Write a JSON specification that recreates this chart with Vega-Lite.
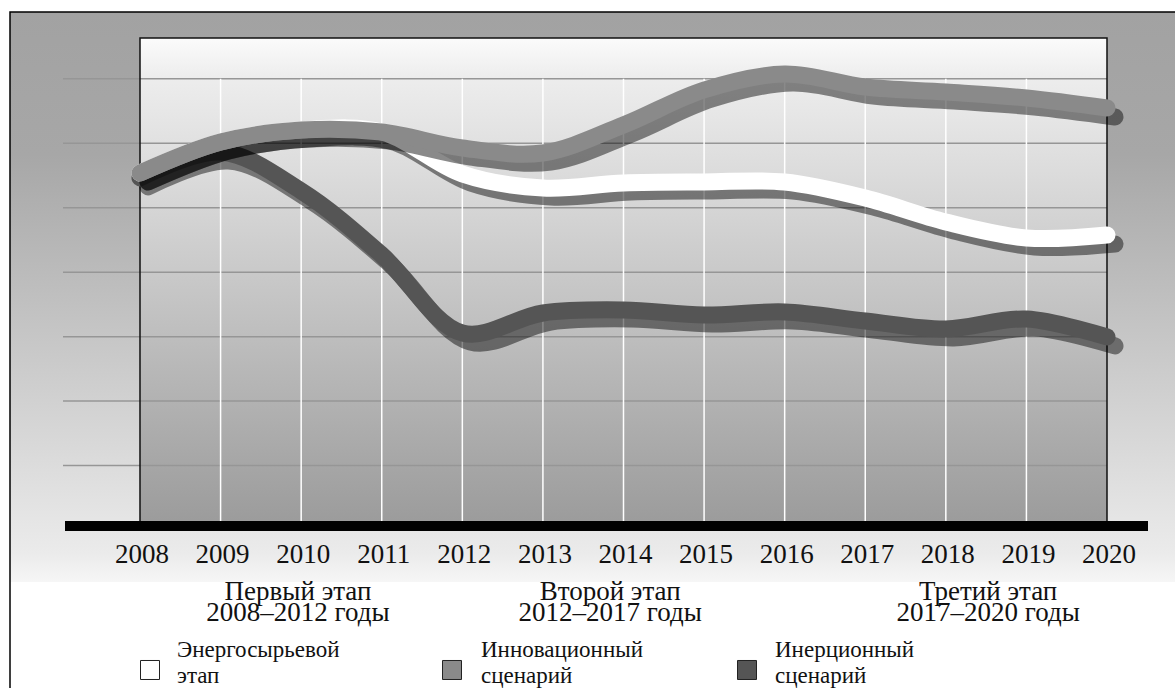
{
  "$schema": "https://vega.github.io/schema/vega-lite/v6.json",
  "width": 1175,
  "height": 688,
  "autosize": {"type": "none"},
  "padding": 0,
  "background": "white",
  "config": {"view": {"stroke": null}},
  "datasets": {
    "one": [{"k": 1}],
    "grid": [{"g": 10}, {"g": 20}, {"g": 30}, {"g": 40}, {"g": 50}, {"g": 60}, {"g": 70}],
    "series": [
      {"year": 2008, "series": "Энергосырьевой этап", "value": 55.39},
      {"year": 2009, "series": "Энергосырьевой этап", "value": 60.2},
      {"year": 2010, "series": "Энергосырьевой этап", "value": 62.06},
      {"year": 2011, "series": "Энергосырьевой этап", "value": 61.75},
      {"year": 2012, "series": "Энергосырьевой этап", "value": 55.24},
      {"year": 2013, "series": "Энергосырьевой этап", "value": 53.07},
      {"year": 2014, "series": "Энергосырьевой этап", "value": 53.84},
      {"year": 2015, "series": "Энергосырьевой этап", "value": 54.0},
      {"year": 2016, "series": "Энергосырьевой этап", "value": 54.0},
      {"year": 2017, "series": "Энергосырьевой этап", "value": 51.51},
      {"year": 2018, "series": "Энергосырьевой этап", "value": 47.79},
      {"year": 2019, "series": "Энергосырьевой этап", "value": 45.31},
      {"year": 2020, "series": "Энергосырьевой этап", "value": 45.77},
      {"year": 2008, "series": "Инновационный сценарий", "value": 55.39},
      {"year": 2009, "series": "Инновационный сценарий", "value": 60.2},
      {"year": 2010, "series": "Инновационный сценарий", "value": 62.06},
      {"year": 2011, "series": "Инновационный сценарий", "value": 61.75},
      {"year": 2012, "series": "Инновационный сценарий", "value": 59.27},
      {"year": 2013, "series": "Инновационный сценарий", "value": 58.5},
      {"year": 2014, "series": "Инновационный сценарий", "value": 62.84},
      {"year": 2015, "series": "Инновационный сценарий", "value": 68.27},
      {"year": 2016, "series": "Инновационный сценарий", "value": 70.75},
      {"year": 2017, "series": "Инновационный сценарий", "value": 68.74},
      {"year": 2018, "series": "Инновационный сценарий", "value": 67.96},
      {"year": 2019, "series": "Инновационный сценарий", "value": 67.03},
      {"year": 2020, "series": "Инновационный сценарий", "value": 65.48},
      {"year": 2008, "series": "Инерционный сценарий", "value": 54.62},
      {"year": 2009, "series": "Инерционный сценарий", "value": 58.65},
      {"year": 2010, "series": "Инерционный сценарий", "value": 52.6},
      {"year": 2011, "series": "Инерционный сценарий", "value": 42.67},
      {"year": 2012, "series": "Инерционный сценарий", "value": 30.57},
      {"year": 2013, "series": "Инерционный сценарий", "value": 33.67},
      {"year": 2014, "series": "Инерционный сценарий", "value": 34.14},
      {"year": 2015, "series": "Инерционный сценарий", "value": 33.36},
      {"year": 2016, "series": "Инерционный сценарий", "value": 33.83},
      {"year": 2017, "series": "Инерционный сценарий", "value": 32.43},
      {"year": 2018, "series": "Инерционный сценарий", "value": 31.19},
      {"year": 2019, "series": "Инерционный сценарий", "value": 32.74},
      {"year": 2020, "series": "Инерционный сценарий", "value": 29.95}
    ],
    "phases": [
      {"phase": 1, "text": "Первый этап\n2008–2012 годы"},
      {"phase": 2, "text": "Второй этап\n2012–2017 годы"},
      {"phase": 3, "text": "Третий этап\n2017–2020 годы"}
    ],
    "legend": [
      {"series": "Энергосырьевой этап", "text": "Энергосырьевой\nэтап"},
      {"series": "Инновационный сценарий", "text": "Инновационный\nсценарий"},
      {"series": "Инерционный сценарий", "text": "Инерционный\nсценарий"}
    ]
  },
  "layer": [
    {
      "data": {"name": "one"},
      "mark": {"type": "rect", "fill": {"gradient": "linear", "x1": 0, "y1": 0, "x2": 0, "y2": 1, "stops": [{"offset": 0, "color": "#a2a2a2"}, {"offset": 0.25, "color": "#a7a7a7"}, {"offset": 0.95, "color": "#ebebeb"}, {"offset": 1, "color": "#f6f6f6"}]}},
      "encoding": {
        "x": {"datum": 2006.3868, "type": "quantitative", "axis": null, "scale": {"domain": [2006.26267, 2020.84385], "nice": false, "zero": false}},
        "x2": {"datum": 2020.9059},
        "y": {"datum": 80.372, "type": "quantitative", "axis": null, "scale": {"domain": [-24.5151, 82.2343], "nice": false, "zero": false}},
        "y2": {"datum": -8.068}
      }
    },
    {
      "data": {"name": "one"},
      "mark": {"type": "rect", "fill": {"gradient": "linear", "x1": 0, "y1": 0, "x2": 0, "y2": 1, "stops": [{"offset": 0, "color": "#fbfbfb"}, {"offset": 0.08, "color": "#ededed"}, {"offset": 1, "color": "#9b9b9b"}]}},
      "encoding": {
        "x": {"datum": 2008, "type": "quantitative", "axis": null, "scale": {"domain": [2006.26267, 2020.84385], "nice": false, "zero": false}},
        "x2": {"datum": 2020},
        "y": {"datum": 76.338, "type": "quantitative", "axis": null, "scale": {"domain": [-24.5151, 82.2343], "nice": false, "zero": false}},
        "y2": {"datum": 0.6206}
      }
    },
    {
      "data": {"name": "grid"},
      "mark": {"type": "rule", "color": "#969696", "strokeWidth": 1.5},
      "encoding": {
        "x": {"datum": 2007.0445, "type": "quantitative", "axis": null, "scale": {"domain": [2006.26267, 2020.84385], "nice": false, "zero": false}},
        "x2": {"datum": 2020},
        "y": {"field": "g", "type": "quantitative", "axis": null, "scale": {"domain": [-24.5151, 82.2343], "nice": false, "zero": false}}
      }
    },
    {
      "data": {"name": "series"},
      "transform": [{"filter": "datum.series === 'Инерционный сценарий' && datum.year > 2008 && datum.year < 2020"}],
      "mark": {"type": "rule", "color": "#ffffff", "strokeWidth": 1.5},
      "encoding": {
        "x": {"field": "year", "type": "quantitative", "axis": null, "scale": {"domain": [2006.26267, 2020.84385], "nice": false, "zero": false}},
        "y": {"datum": 70, "type": "quantitative", "axis": null, "scale": {"domain": [-24.5151, 82.2343], "nice": false, "zero": false}},
        "y2": {"datum": 1.3964}
      }
    },
    {
      "data": {"name": "one"},
      "mark": {"type": "rect", "fill": null, "stroke": "#111111", "strokeWidth": 1.5},
      "encoding": {
        "x": {"datum": 2008, "type": "quantitative", "axis": null, "scale": {"domain": [2006.26267, 2020.84385], "nice": false, "zero": false}},
        "x2": {"datum": 2020},
        "y": {"datum": 76.338, "type": "quantitative", "axis": null, "scale": {"domain": [-24.5151, 82.2343], "nice": false, "zero": false}},
        "y2": {"datum": 0.6206}
      }
    },
    {
      "data": {"name": "series"},
      "transform": [{"filter": "datum.series === 'Инерционный сценарий'"}],
      "mark": {"type": "line", "interpolate": "catmull-rom", "strokeWidth": 17, "strokeCap": "round", "strokeJoin": "round", "color": "#000000", "opacity": 0.46, "xOffset": 8, "yOffset": 9},
      "encoding": {
        "x": {"field": "year", "type": "quantitative", "axis": null, "scale": {"domain": [2006.26267, 2020.84385], "nice": false, "zero": false}},
        "y": {"field": "value", "type": "quantitative", "axis": null, "scale": {"domain": [-24.5151, 82.2343], "nice": false, "zero": false}}
      }
    },
    {
      "data": {"name": "series"},
      "transform": [{"filter": "datum.series === 'Инерционный сценарий'"}],
      "mark": {"type": "line", "interpolate": "catmull-rom", "strokeWidth": 17, "strokeCap": "round", "strokeJoin": "round", "color": "#555555"},
      "encoding": {
        "x": {"field": "year", "type": "quantitative", "axis": null, "scale": {"domain": [2006.26267, 2020.84385], "nice": false, "zero": false}},
        "y": {"field": "value", "type": "quantitative", "axis": null, "scale": {"domain": [-24.5151, 82.2343], "nice": false, "zero": false}}
      }
    },
    {
      "data": {"name": "series"},
      "transform": [{"filter": "datum.series === 'Энергосырьевой этап'"}],
      "mark": {"type": "line", "interpolate": "catmull-rom", "strokeWidth": 17, "strokeCap": "round", "strokeJoin": "round", "color": "#000000", "opacity": 0.46, "xOffset": 8, "yOffset": 9},
      "encoding": {
        "x": {"field": "year", "type": "quantitative", "axis": null, "scale": {"domain": [2006.26267, 2020.84385], "nice": false, "zero": false}},
        "y": {"field": "value", "type": "quantitative", "axis": null, "scale": {"domain": [-24.5151, 82.2343], "nice": false, "zero": false}}
      }
    },
    {
      "data": {"name": "series"},
      "transform": [{"filter": "datum.series === 'Энергосырьевой этап'"}],
      "mark": {"type": "line", "interpolate": "catmull-rom", "strokeWidth": 17, "strokeCap": "round", "strokeJoin": "round", "color": "#ffffff"},
      "encoding": {
        "x": {"field": "year", "type": "quantitative", "axis": null, "scale": {"domain": [2006.26267, 2020.84385], "nice": false, "zero": false}},
        "y": {"field": "value", "type": "quantitative", "axis": null, "scale": {"domain": [-24.5151, 82.2343], "nice": false, "zero": false}}
      }
    },
    {
      "data": {"name": "series"},
      "transform": [{"filter": "datum.series === 'Инновационный сценарий'"}],
      "mark": {"type": "line", "interpolate": "catmull-rom", "strokeWidth": 17, "strokeCap": "round", "strokeJoin": "round", "color": "#000000", "opacity": 0.46, "xOffset": 8, "yOffset": 9},
      "encoding": {
        "x": {"field": "year", "type": "quantitative", "axis": null, "scale": {"domain": [2006.26267, 2020.84385], "nice": false, "zero": false}},
        "y": {"field": "value", "type": "quantitative", "axis": null, "scale": {"domain": [-24.5151, 82.2343], "nice": false, "zero": false}}
      }
    },
    {
      "data": {"name": "series"},
      "transform": [{"filter": "datum.series === 'Инновационный сценарий'"}],
      "mark": {"type": "line", "interpolate": "catmull-rom", "strokeWidth": 17, "strokeCap": "round", "strokeJoin": "round", "color": "#8a8a8a"},
      "encoding": {
        "x": {"field": "year", "type": "quantitative", "axis": null, "scale": {"domain": [2006.26267, 2020.84385], "nice": false, "zero": false}},
        "y": {"field": "value", "type": "quantitative", "axis": null, "scale": {"domain": [-24.5151, 82.2343], "nice": false, "zero": false}}
      }
    },
    {
      "data": {"name": "one"},
      "mark": {"type": "rect", "fill": "#000000"},
      "encoding": {
        "x": {"datum": 2007.0693, "type": "quantitative", "axis": null, "scale": {"domain": [2006.26267, 2020.84385], "nice": false, "zero": false}},
        "x2": {"datum": 2020.5088},
        "y": {"datum": 1.3964, "type": "quantitative", "axis": null, "scale": {"domain": [-24.5151, 82.2343], "nice": false, "zero": false}},
        "y2": {"datum": -0.1552}
      }
    },
    {
      "data": {"name": "one"},
      "mark": {"type": "rect", "fill": null, "stroke": "#000000", "strokeWidth": 1.5},
      "encoding": {
        "x": {"datum": 2006.3868, "type": "quantitative", "axis": null, "scale": {"domain": [2006.26267, 2020.84385], "nice": false, "zero": false}},
        "x2": {"datum": 2020.9059},
        "y": {"datum": 80.372, "type": "quantitative", "axis": null, "scale": {"domain": [-24.5151, 82.2343], "nice": false, "zero": false}},
        "y2": {"datum": -26.38}
      }
    },
    {
      "data": {"name": "series"},
      "transform": [{"filter": "datum.series === 'Инерционный сценарий'"}],
      "mark": {"type": "text", "font": "Liberation Serif", "fontSize": 27, "color": "#111111", "baseline": "middle", "align": "center", "dx": 2},
      "encoding": {
        "x": {"field": "year", "type": "quantitative", "axis": null, "scale": {"domain": [2006.26267, 2020.84385], "nice": false, "zero": false}},
        "y": {"datum": -3.88, "type": "quantitative", "axis": null, "scale": {"domain": [-24.5151, 82.2343], "nice": false, "zero": false}},
        "text": {"field": "year", "type": "nominal"}
      }
    },
    {
      "data": {"name": "phases"},
      "transform": [{"filter": "datum.phase === 1"}],
      "mark": {"type": "text", "font": "Liberation Serif", "fontSize": 27, "color": "#111111", "baseline": "middle", "align": "center", "lineBreak": "\n", "lineHeight": 21},
      "encoding": {
        "x": {"datum": 2009.9607, "type": "quantitative", "axis": null, "scale": {"domain": [2006.26267, 2020.84385], "nice": false, "zero": false}},
        "y": {"datum": -9.62, "type": "quantitative", "axis": null, "scale": {"domain": [-24.5151, 82.2343], "nice": false, "zero": false}},
        "text": {"field": "text", "type": "nominal"}
      }
    },
    {
      "data": {"name": "phases"},
      "transform": [{"filter": "datum.phase === 2"}],
      "mark": {"type": "text", "font": "Liberation Serif", "fontSize": 27, "color": "#111111", "baseline": "middle", "align": "center", "lineBreak": "\n", "lineHeight": 21},
      "encoding": {
        "x": {"datum": 2013.8344, "type": "quantitative", "axis": null, "scale": {"domain": [2006.26267, 2020.84385], "nice": false, "zero": false}},
        "y": {"datum": -9.62, "type": "quantitative", "axis": null, "scale": {"domain": [-24.5151, 82.2343], "nice": false, "zero": false}},
        "text": {"field": "text", "type": "nominal"}
      }
    },
    {
      "data": {"name": "phases"},
      "transform": [{"filter": "datum.phase === 3"}],
      "mark": {"type": "text", "font": "Liberation Serif", "fontSize": 27, "color": "#111111", "baseline": "middle", "align": "center", "lineBreak": "\n", "lineHeight": 21},
      "encoding": {
        "x": {"datum": 2018.5253, "type": "quantitative", "axis": null, "scale": {"domain": [2006.26267, 2020.84385], "nice": false, "zero": false}},
        "y": {"datum": -9.62, "type": "quantitative", "axis": null, "scale": {"domain": [-24.5151, 82.2343], "nice": false, "zero": false}},
        "text": {"field": "text", "type": "nominal"}
      }
    },
    {
      "data": {"name": "legend"},
      "transform": [{"filter": "datum.series === 'Энергосырьевой этап'"}],
      "layer": [
        {
          "mark": {"type": "point", "shape": "square", "size": 361, "filled": true, "fill": "#ffffff", "stroke": "#222222", "strokeWidth": 1, "opacity": 1},
          "encoding": {
            "x": {"datum": 2008.1241, "type": "quantitative", "axis": null, "scale": {"domain": [2006.26267, 2020.84385], "nice": false, "zero": false}},
            "y": {"datum": -21.72, "type": "quantitative", "axis": null, "scale": {"domain": [-24.5151, 82.2343], "nice": false, "zero": false}}
          }
        },
        {
          "mark": {"type": "text", "font": "Liberation Serif", "fontSize": 23, "color": "#111111", "baseline": "middle", "align": "left", "lineBreak": "\n", "lineHeight": 26},
          "encoding": {
            "x": {"datum": 2008.4592, "type": "quantitative", "axis": null, "scale": {"domain": [2006.26267, 2020.84385], "nice": false, "zero": false}},
            "y": {"datum": -18.62, "type": "quantitative", "axis": null, "scale": {"domain": [-24.5151, 82.2343], "nice": false, "zero": false}},
            "text": {"field": "text", "type": "nominal"}
          }
        }
      ]
    },
    {
      "data": {"name": "legend"},
      "transform": [{"filter": "datum.series === 'Инновационный сценарий'"}],
      "layer": [
        {
          "mark": {"type": "point", "shape": "square", "size": 361, "filled": true, "fill": "#8a8a8a", "stroke": "#222222", "strokeWidth": 1, "opacity": 1},
          "encoding": {
            "x": {"datum": 2011.8718, "type": "quantitative", "axis": null, "scale": {"domain": [2006.26267, 2020.84385], "nice": false, "zero": false}},
            "y": {"datum": -21.72, "type": "quantitative", "axis": null, "scale": {"domain": [-24.5151, 82.2343], "nice": false, "zero": false}}
          }
        },
        {
          "mark": {"type": "text", "font": "Liberation Serif", "fontSize": 23, "color": "#111111", "baseline": "middle", "align": "left", "lineBreak": "\n", "lineHeight": 26},
          "encoding": {
            "x": {"datum": 2012.2317, "type": "quantitative", "axis": null, "scale": {"domain": [2006.26267, 2020.84385], "nice": false, "zero": false}},
            "y": {"datum": -18.62, "type": "quantitative", "axis": null, "scale": {"domain": [-24.5151, 82.2343], "nice": false, "zero": false}},
            "text": {"field": "text", "type": "nominal"}
          }
        }
      ]
    },
    {
      "data": {"name": "legend"},
      "transform": [{"filter": "datum.series === 'Инерционный сценарий'"}],
      "layer": [
        {
          "mark": {"type": "point", "shape": "square", "size": 361, "filled": true, "fill": "#555555", "stroke": "#222222", "strokeWidth": 1, "opacity": 1},
          "encoding": {
            "x": {"datum": 2015.5326, "type": "quantitative", "axis": null, "scale": {"domain": [2006.26267, 2020.84385], "nice": false, "zero": false}},
            "y": {"datum": -21.72, "type": "quantitative", "axis": null, "scale": {"domain": [-24.5151, 82.2343], "nice": false, "zero": false}}
          }
        },
        {
          "mark": {"type": "text", "font": "Liberation Serif", "fontSize": 23, "color": "#111111", "baseline": "middle", "align": "left", "lineBreak": "\n", "lineHeight": 26},
          "encoding": {
            "x": {"datum": 2015.8801, "type": "quantitative", "axis": null, "scale": {"domain": [2006.26267, 2020.84385], "nice": false, "zero": false}},
            "y": {"datum": -18.62, "type": "quantitative", "axis": null, "scale": {"domain": [-24.5151, 82.2343], "nice": false, "zero": false}},
            "text": {"field": "text", "type": "nominal"}
          }
        }
      ]
    }
  ]
}
